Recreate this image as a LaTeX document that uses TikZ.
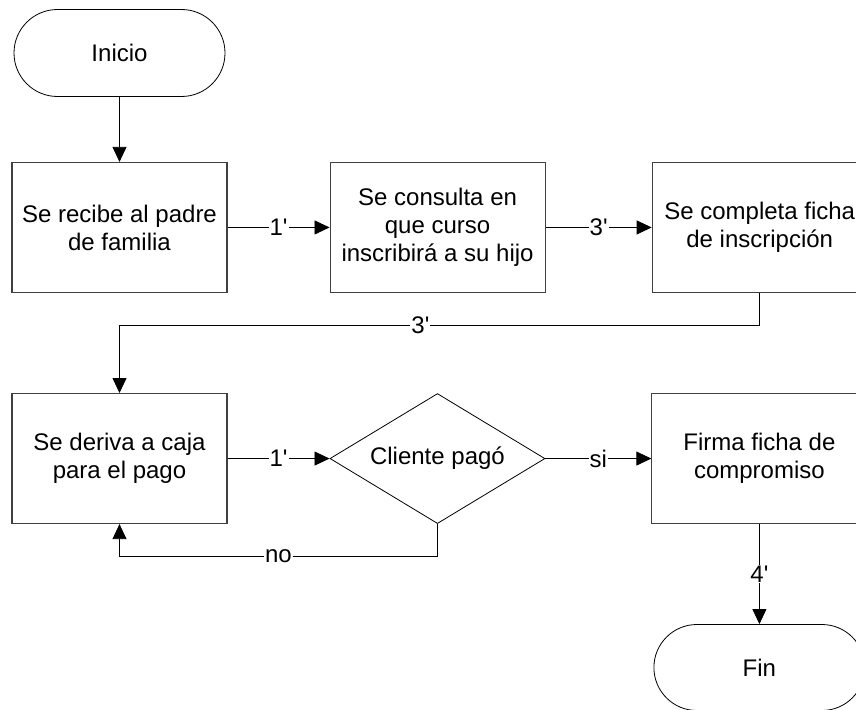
\documentclass[tikz,border=0pt]{standalone}
\usepackage{fontspec}
\newfontfamily\flowfont{Liberation Sans}
\usetikzlibrary{positioning, shapes.geometric, shapes.misc, arrows.meta}
\tikzset{%
flow base/.style={
    font=\flowfont\fontsize{24}{28}\selectfont,
    align=center,
    draw=black!75, line width=1.1pt,
    fill=white, inner sep=2pt
},
process/.style={flow base, rectangle, minimum width=215pt, minimum height=130pt},
terminal/.style={flow base, draw=black, line width=0.8pt, rounded rectangle, minimum width=215pt, minimum height=87pt},
decision/.style={flow base, draw=black, line width=0.8pt, diamond, aspect=1.65, minimum width=215pt, minimum height=130pt},
flow/.style={line width=0.8pt, -{Triangle[length=15pt,width=14pt]}},
time/.style={fill=white, inner sep=1pt, font=\flowfont\fontsize{24}{28}\selectfont},
}

\begin{document}
\begin{tikzpicture}
\useasboundingbox (0,0) rectangle (856pt,-709pt);
\clip (0,0) rectangle (856pt,-709pt);

% first row
\node[terminal] (inicio) at (119.5pt,-53pt) {Inicio};
\node[process, below=65pt of inicio] (recibe) {Se recibe al padre\\de familia};
\node[process, right=102pt of recibe] (consulta) {Se consulta en\\que curso\\inscribirá a su hijo};
\node[process, right=106pt of consulta] (ficha) {Se completa ficha\\de inscripción};
% second row
\node[process, below=100pt of recibe] (caja) {Se deriva a caja\\para el pago};
\node[decision, right=102pt of caja] (pago) {Cliente pagó};
\node[process, right=106pt of pago] (firma) {Firma ficha de\\compromiso};
\node[terminal, below=100pt of firma, minimum height=86pt] (fin) {Fin};

\draw[flow] (inicio) -- (recibe);
\draw[flow] (recibe) -- node[time] {1'} (consulta);
\draw[flow] (consulta) -- node[time] {3'} (ficha);
\draw[flow] (ficha.south) -- ++(0,-32pt) -| node[time, pos=0.265] {3'} (caja.north);
\draw[flow] (caja) -- node[time] {1'} (pago);
\draw[flow] (pago) -- node[time] {si} (firma);
\draw[flow] (pago.south) -- ++(0,-32pt) -| node[time, pos=0.25] {no} (caja.south);
\draw[flow] (firma) -- node[time] {4'} (fin);
\end{tikzpicture}
\end{document}
